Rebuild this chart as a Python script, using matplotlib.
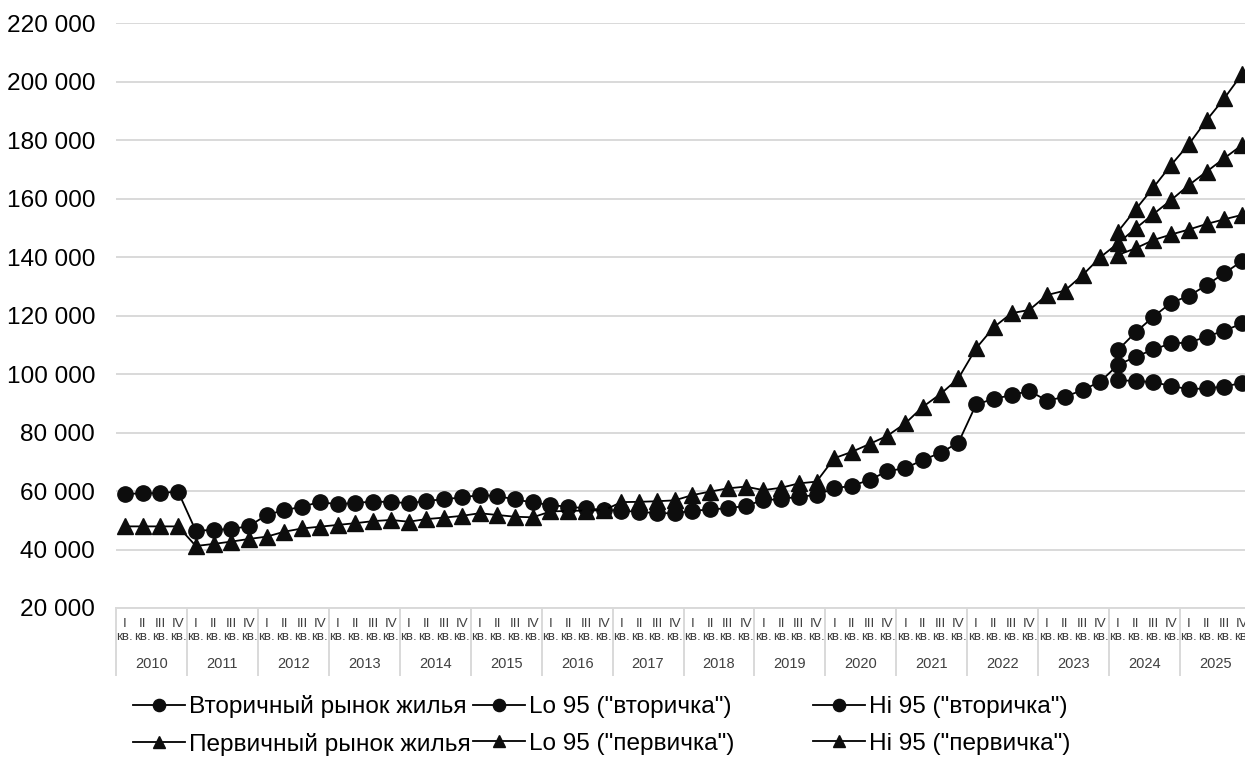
import matplotlib
matplotlib.use("Agg")
import matplotlib.pyplot as plt
import matplotlib.transforms as mtransforms
import numpy as np

plt.rcParams["font.family"] = ["Liberation Sans", "DejaVu Sans"]

# Quarters 2010 Q1 .. 2025 Q4
years = list(range(2010, 2026))
quarter_names = ["I", "II", "III", "IV"]

# Secondary market (thousand rub.), 2010 Q1 .. 2023 Q4
secondary_hist = [
    59.0, 59.2, 59.3, 59.8,
    46.4, 46.7, 47.0, 48.0,
    51.8, 53.5, 54.6, 56.3,
    55.4, 56.0, 56.3, 56.3,
    55.8, 56.6, 57.2, 57.8,
    58.6, 58.3, 57.1, 56.1,
    55.2, 54.6, 54.1, 53.5,
    53.2, 52.9, 52.4, 52.4,
    53.2, 53.7, 54.1, 54.9,
    56.9, 57.2, 58.1, 58.6,
    60.9, 61.8, 63.8, 66.8,
    67.8, 70.6, 73.1, 76.5,
    89.6, 91.5, 92.8, 94.2,
    90.9, 92.2, 94.5, 97.4,
]
# forecast 2024 Q1 .. 2025 Q4
secondary_fc = [103.1, 105.9, 108.4, 110.5, 110.7, 112.8, 114.8, 117.3]
secondary_lo = [97.9, 97.6, 97.2, 95.9, 94.8, 95.1, 95.7, 97.0]
secondary_hi = [108.2, 114.3, 119.6, 124.4, 126.7, 130.4, 134.5, 138.6]

# Primary market
primary_hist = [
    47.9, 47.9, 47.9, 47.9,
    41.2, 41.9, 42.7, 43.6,
    44.4, 46.1, 47.2, 47.8,
    48.4, 49.0, 49.7, 50.1,
    49.5, 50.4, 50.9, 51.5,
    52.4, 51.8, 51.2, 51.0,
    53.0, 53.2, 53.3, 53.4,
    56.2, 56.3, 56.5, 56.8,
    58.6, 59.8, 60.9, 61.5,
    60.3, 61.1, 62.6, 63.2,
    71.2, 73.4, 76.1, 78.9,
    83.1, 88.8, 93.2, 98.5,
    108.8, 116.0, 120.8, 121.9,
    127.0, 128.5, 133.8, 139.9,
]
primary_fc = [144.7, 149.8, 154.7, 159.5, 164.6, 169.2, 173.8, 178.3]
primary_lo = [140.7, 143.0, 145.8, 147.7, 149.4, 151.3, 152.9, 154.4]
primary_hi = [148.7, 156.3, 163.8, 171.5, 178.6, 186.8, 194.3, 202.6]

n_hist = len(secondary_hist)
n = n_hist + len(secondary_fc)
x = np.arange(n)
pad = [np.nan] * n_hist

def scaled(v):
    return np.array(v, dtype=float) * 1000

sec_main = scaled(secondary_hist + secondary_fc)
sec_lo = scaled(pad + secondary_lo)
sec_hi = scaled(pad + secondary_hi)
pri_main = scaled(primary_hist + primary_fc)
pri_lo = scaled(pad + primary_lo)
pri_hi = scaled(pad + primary_hi)

fig = plt.figure(figsize=(12.45, 7.64), dpi=100)
ax = fig.add_axes([116 / 1245, 156 / 764, 1135 / 1245, 585 / 764])

line_kw = dict(color="black", linewidth=1.3, markerfacecolor="#0d0d0d",
               markeredgecolor="#0d0d0d", clip_on=False, zorder=3)
h1, = ax.plot(x, sec_main, marker="o", markersize=11, label="Вторичный рынок жилья", **line_kw)
h2, = ax.plot(x, sec_lo, marker="o", markersize=11, label='Lo 95 ("вторичка")', **line_kw)
h3, = ax.plot(x, sec_hi, marker="o", markersize=11, label='Hi 95 ("вторичка")', **line_kw)
h4, = ax.plot(x, pri_main, marker="^", markersize=11, label="Первичный рынок жилья", **line_kw)
h5, = ax.plot(x, pri_lo, marker="^", markersize=11, label='Lo 95 ("первичка")', **line_kw)
h6, = ax.plot(x, pri_hi, marker="^", markersize=11, label='Hi 95 ("первичка")', **line_kw)

ax.set_xlim(-0.5, n - 0.5)
ax.set_ylim(20000, 220000)
yt = np.arange(20000, 220001, 20000)
ax.set_yticks(yt)
ax.set_yticklabels([f"{v:,}".replace(",", " ") for v in yt], fontsize=17.6)
ax.tick_params(axis="y", length=0, pad=15)
ax.grid(axis="y", color="#d9d9d9", linewidth=1.4)
ax.set_axisbelow(True)
for s in ["top", "right", "left"]:
    ax.spines[s].set_visible(False)
ax.spines["bottom"].set_color("#d9d9d9")
ax.spines["bottom"].set_linewidth(1.4)

# quarter labels (first level)
ax.set_xticks(x)
ax.set_xticklabels([f"{quarter_names[i % 4]}\nкв." for i in x], fontsize=9.6,
                   linespacing=1.1, color="#404040")
ax.tick_params(axis="x", length=0, pad=7)

# year groups (second level)
trans = mtransforms.blended_transform_factory(ax.transData, ax.transAxes)
for k, yr in enumerate(years):
    ax.text(k * 4 + 1.5, -0.095, str(yr), transform=trans, ha="center", va="center",
            fontsize=10.5, color="#404040")
for k in range(len(years) + 1):
    ax.plot([k * 4 - 0.5, k * 4 - 0.5], [0, -0.115], transform=trans, color="#d9d9d9",
            linewidth=1.4, clip_on=False)

# legend in three columns
leg_kw = dict(loc="center left", frameon=False, fontsize=17.6, handlelength=2.13,
              handletextpad=0.15, labelspacing=0.6, borderpad=0, borderaxespad=0,
              markerscale=0.8)
for hs, xpos in [((h1, h4), 133), ((h2, h5), 473), ((h3, h6), 813)]:
    fig.legend(hs, [h.get_label() for h in hs], bbox_to_anchor=(xpos / 1245, 38.5 / 764), **leg_kw)

fig.savefig("out.png", dpi=100)
